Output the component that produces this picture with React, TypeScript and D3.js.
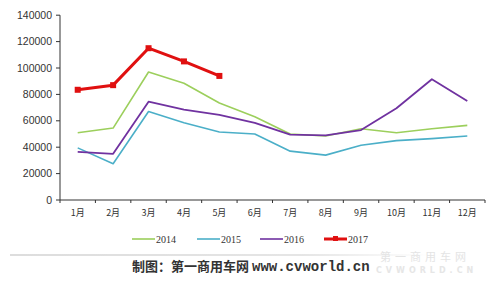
import React from "react";
import * as d3 from "d3";

const months = ["1月", "2月", "3月", "4月", "5月", "6月", "7月", "8月", "9月", "10月", "11月", "12月"];
const yTicks = [0, 20000, 40000, 60000, 80000, 100000, 120000, 140000];
const s2014 = [51000, 54500, 97000, 88500, 73500, 63000, 50000, 48500, 54000, 51000, 54000, 56500];
const s2015 = [39500, 27500, 67000, 58500, 51500, 50000, 37000, 34000, 41500, 45000, 46500, 48500];
const s2016 = [36500, 35000, 74500, 68500, 64500, 58500, 49500, 49000, 53000, 69500, 91500, 75000];
const s2017 = [83500, 87000, 115000, 105000, 94000];

const series = [
  { name: "2014", values: s2014, color: "#9ccf5c", width: 1.6, marker: false },
  { name: "2015", values: s2015, color: "#4bafc8", width: 1.6, marker: false },
  { name: "2016", values: s2016, color: "#7032a0", width: 1.8, marker: false },
  { name: "2017", values: s2017, color: "#e01010", width: 3, marker: true },
];

export default function App() {
  const W = 504, H = 284;
  const left = 60, right = 485, top = 15.2, bottom = 200;
  const x = d3.scaleBand<string>().domain(months).range([left, right]);
  const y = d3.scaleLinear().domain([0, 140000]).range([bottom, top]);
  const cx = (i: number) => (x(months[i]) as number) + x.bandwidth() / 2;
  const line = d3.line<number>().x((_, i) => cx(i)).y((v) => y(v));
  const boundaries = d3.range(months.length + 1).map((i) => left + i * x.bandwidth());

  const legendItems = [
    { ...series[0], lx: 132 },
    { ...series[1], lx: 197 },
    { ...series[2], lx: 260 },
    { ...series[3], lx: 324 },
  ];

  return (
    <svg width={W} height={H} style={{ position: "absolute", left: 0, top: 0, background: "#fff" }}>
      <rect x={0} y={0} width={W} height={H} fill="#fff" />
      {/* y axis */}
      <line x1={left} x2={left} y1={top} y2={bottom} stroke="#333" strokeWidth={1} />
      {yTicks.map((t) => (
        <g key={t}>
          <line x1={left - 4} x2={left} y1={y(t)} y2={y(t)} stroke="#333" />
          <text x={52} y={y(t)} dy="0.35em" textAnchor="end" fontFamily="Liberation Sans, Arial, sans-serif" fontSize={10.5} fill="#333">
            {t}
          </text>
        </g>
      ))}
      {/* x axis */}
      <line x1={left} x2={right} y1={bottom} y2={bottom} stroke="#333" strokeWidth={1} />
      {boundaries.map((b, i) => (
        <line key={i} x1={b} x2={b} y1={bottom} y2={bottom + 3} stroke="#333" />
      ))}
      {months.map((m, i) => (
        <text key={m} x={cx(i)} y={213} dy="0.35em" textAnchor="middle" fontFamily="Noto Sans CJK SC, sans-serif" fontSize={9} fill="#333">
          {m}
        </text>
      ))}
      {/* series */}
      {series.map((s) => (
        <g key={s.name}>
          <path d={line(s.values) || ""} fill="none" stroke={s.color} strokeWidth={s.width} strokeLinejoin="round" />
          {s.marker &&
            s.values.map((v, i) => (
              <rect key={i} x={cx(i) - 3} y={y(v) - 3} width={6} height={6} fill={s.color} />
            ))}
        </g>
      ))}
      {/* legend */}
      {legendItems.map((s) => (
        <g key={s.name}>
          <line x1={s.lx} x2={s.lx + 23} y1={239} y2={239} stroke={s.color} strokeWidth={s.marker ? 3 : 1.6} />
          {s.marker && <rect x={s.lx + 9} y={236} width={5} height={5} fill={s.color} />}
          <text x={s.lx + 24} y={239} dy="0.35em" fontFamily="Liberation Serif, DejaVu Serif, serif" fontSize={10} fill="#333">
            {s.name}
          </text>
        </g>
      ))}
      {/* separator */}
      <defs>
        <linearGradient id="sep" x1="0" x2="1" y1="0" y2="0">
          <stop offset="0" stopColor="#bbb" />
          <stop offset="0.7" stopColor="#ccc" />
          <stop offset="1" stopColor="#fff" />
        </linearGradient>
      </defs>
      <rect x={10} y={254.5} width={420} height={1} fill="url(#sep)" />
      {/* watermark */}
      <text x={380} y={261} fontFamily="Noto Sans CJK SC, sans-serif" fontSize={11} fill="#e4e4e4" letterSpacing={4}>
        第一商用车网
      </text>
      <text x={376} y={273} fontFamily="DejaVu Sans, sans-serif" fontSize={8} fontWeight="bold" fill="#e6e6e6" letterSpacing={4}>
        CVWORLD.CN
      </text>
      {/* footer */}
      <text x={132} y={266} dy="0.35em" fontFamily="Noto Sans CJK SC, serif" fontSize={13} fontWeight="bold" fill="#333">
        制图：第一商用车网
        <tspan dx={3} fontFamily="Liberation Mono, monospace" fontSize={14}>www.cvworld.cn</tspan>
      </text>
    </svg>
  );
}
